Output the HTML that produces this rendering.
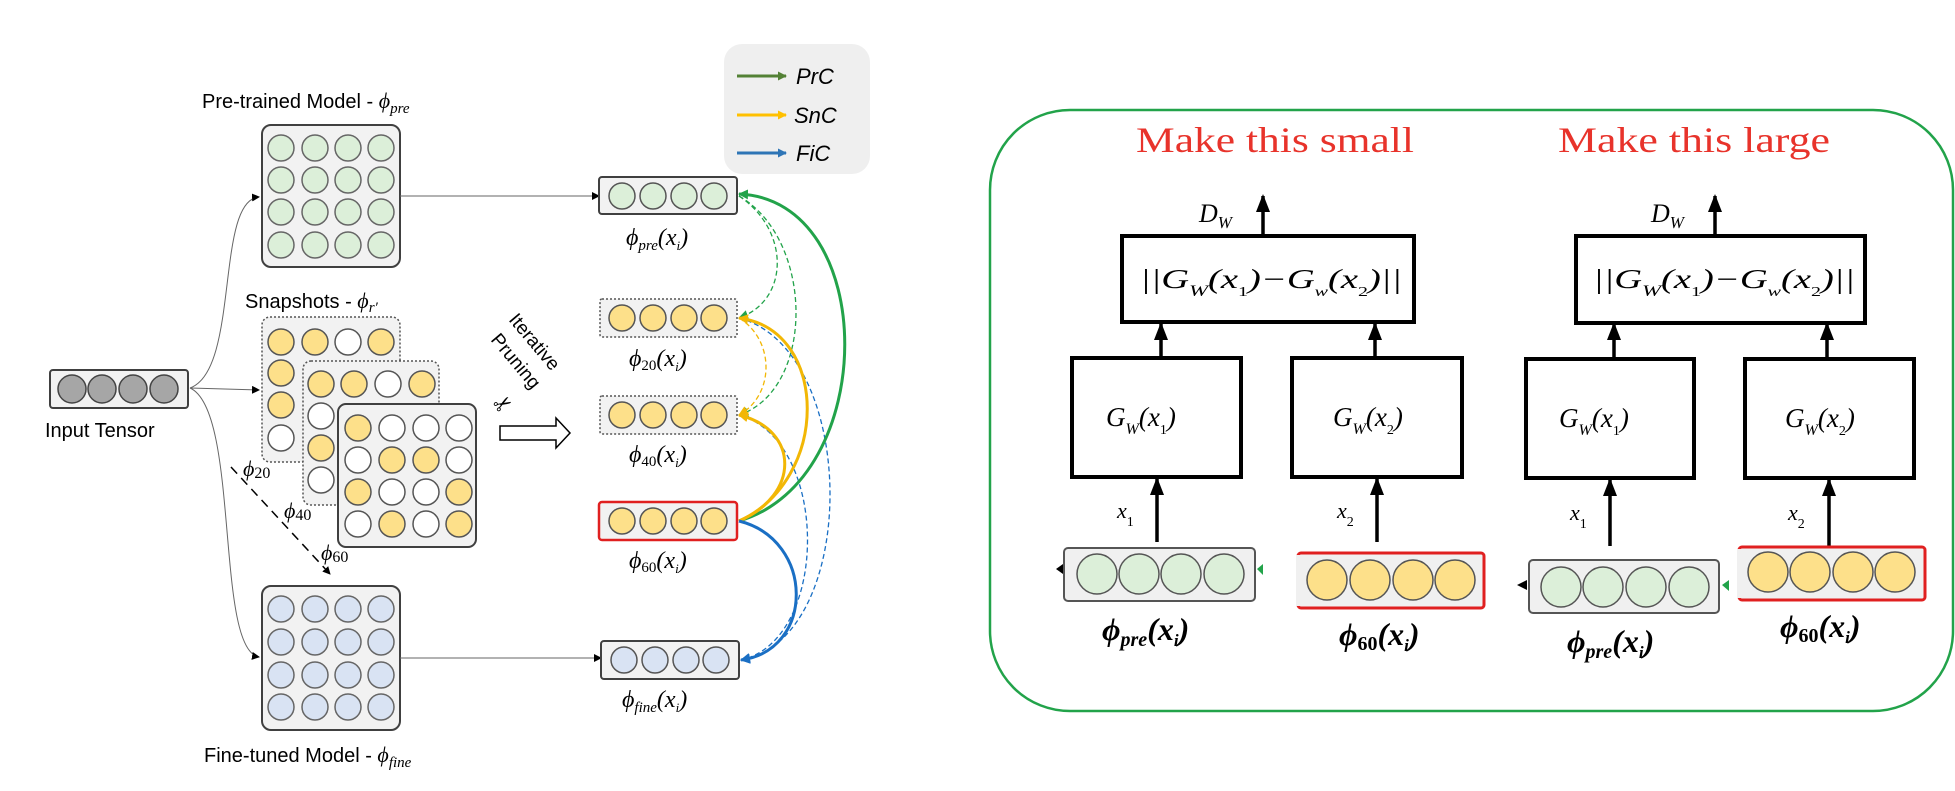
<!DOCTYPE html>
<html><head><meta charset="utf-8"><style>
html,body{margin:0;padding:0;background:#fff;}
svg{display:block;}
text{font-family:"Liberation Sans",sans-serif;}
.ser{font-family:"Liberation Serif",serif;}
</style></head><body>
<svg width="1955" height="791" viewBox="0 0 1955 791" xmlns="http://www.w3.org/2000/svg">
<defs>
<marker id="ak" markerWidth="8" markerHeight="8" refX="7" refY="4" orient="auto" markerUnits="userSpaceOnUse"><path d="M0,0 L8,4 L0,8z" fill="#000"/></marker>
<marker id="ag" markerWidth="10" markerHeight="10" refX="9" refY="5" orient="auto" markerUnits="userSpaceOnUse"><path d="M0,0 L10,5 L0,10z" fill="#22a34a"/></marker>
<marker id="agd" markerWidth="10" markerHeight="10" refX="9" refY="5" orient="auto" markerUnits="userSpaceOnUse"><path d="M0,0 L10,5 L0,10z" fill="#22a34a"/></marker>
<marker id="ay" markerWidth="10" markerHeight="10" refX="9" refY="5" orient="auto" markerUnits="userSpaceOnUse"><path d="M0,0 L10,5 L0,10z" fill="#f2b705"/></marker>
<marker id="ab" markerWidth="10" markerHeight="10" refX="9" refY="5" orient="auto" markerUnits="userSpaceOnUse"><path d="M0,0 L10,5 L0,10z" fill="#1a6fc4"/></marker>
<marker id="aL" markerWidth="9" markerHeight="9" refX="8" refY="4.5" orient="auto" markerUnits="userSpaceOnUse"><path d="M0,0 L9,4.5 L0,9z" fill="#538135"/></marker>
<marker id="aLy" markerWidth="9" markerHeight="9" refX="8" refY="4.5" orient="auto" markerUnits="userSpaceOnUse"><path d="M0,0 L9,4.5 L0,9z" fill="#ffc000"/></marker>
<marker id="aLb" markerWidth="9" markerHeight="9" refX="8" refY="4.5" orient="auto" markerUnits="userSpaceOnUse"><path d="M0,0 L9,4.5 L0,9z" fill="#2e75b6"/></marker>
<marker id="abig" markerWidth="18" markerHeight="14" refX="16" refY="7" orient="auto" markerUnits="userSpaceOnUse"><path d="M0,0 L18,7 L0,14z" fill="#000"/></marker>
</defs>

<!-- Legend -->
<rect x="724" y="44" width="146" height="130" rx="18" fill="#efefef"/>
<line x1="737" y1="76" x2="786" y2="76" stroke="#538135" stroke-width="3" marker-end="url(#aL)"/>
<line x1="737" y1="115" x2="786" y2="115" stroke="#ffc000" stroke-width="3" marker-end="url(#aLy)"/>
<line x1="737" y1="153" x2="786" y2="153" stroke="#2e75b6" stroke-width="3" marker-end="url(#aLb)"/>
<text x="796" y="84" font-size="22" font-style="italic">PrC</text>
<text x="794" y="123" font-size="22" font-style="italic">SnC</text>
<text x="796" y="161" font-size="22" font-style="italic">FiC</text>

<!-- Labels -->
<text x="202" y="108" font-size="20">Pre-trained Model - <tspan class="ser" font-style="italic" font-size="22">ϕ</tspan><tspan class="ser" font-style="italic" font-size="15" dy="5">pre</tspan></text>
<text x="245" y="308" font-size="20">Snapshots - <tspan class="ser" font-style="italic" font-size="22">ϕ</tspan><tspan class="ser" font-style="italic" font-size="15" dy="4">r′</tspan></text>
<text x="204" y="762" font-size="20">Fine-tuned Model - <tspan class="ser" font-style="italic" font-size="22">ϕ</tspan><tspan class="ser" font-style="italic" font-size="15" dy="5">fine</tspan></text>
<text x="45" y="437" font-size="20">Input Tensor</text>

<!-- Pre box -->
<rect x="262" y="125" width="138" height="142" rx="9" fill="#f2f2f2" stroke="#404040" stroke-width="2"/>
<g fill="#dcefd9" stroke="#666" stroke-width="1.5">
<circle cx="281" cy="148" r="13"/><circle cx="315" cy="148" r="13"/><circle cx="348" cy="148" r="13"/><circle cx="381" cy="148" r="13"/>
<circle cx="281" cy="180" r="13"/><circle cx="315" cy="180" r="13"/><circle cx="348" cy="180" r="13"/><circle cx="381" cy="180" r="13"/>
<circle cx="281" cy="212" r="13"/><circle cx="315" cy="212" r="13"/><circle cx="348" cy="212" r="13"/><circle cx="381" cy="212" r="13"/>
<circle cx="281" cy="245" r="13"/><circle cx="315" cy="245" r="13"/><circle cx="348" cy="245" r="13"/><circle cx="381" cy="245" r="13"/>
</g>
<!-- Fine box -->
<rect x="262" y="586" width="138" height="144" rx="9" fill="#f2f2f2" stroke="#404040" stroke-width="2"/>
<g fill="#d9e3f3" stroke="#666" stroke-width="1.5">
<circle cx="281" cy="609" r="13"/><circle cx="315" cy="609" r="13"/><circle cx="348" cy="609" r="13"/><circle cx="381" cy="609" r="13"/>
<circle cx="281" cy="642" r="13"/><circle cx="315" cy="642" r="13"/><circle cx="348" cy="642" r="13"/><circle cx="381" cy="642" r="13"/>
<circle cx="281" cy="675" r="13"/><circle cx="315" cy="675" r="13"/><circle cx="348" cy="675" r="13"/><circle cx="381" cy="675" r="13"/>
<circle cx="281" cy="707" r="13"/><circle cx="315" cy="707" r="13"/><circle cx="348" cy="707" r="13"/><circle cx="381" cy="707" r="13"/>
</g>

<!-- Snapshots -->
<rect x="262" y="317" width="138" height="145" rx="8" fill="#f2f2f2" stroke="#555" stroke-width="1.5" stroke-dasharray="2,2"/>
<g stroke="#555" stroke-width="1.5">
<circle cx="281" cy="342" r="13" fill="#fde08a"/><circle cx="315" cy="342" r="13" fill="#fde08a"/><circle cx="348" cy="342" r="13" fill="#fff"/><circle cx="381" cy="342" r="13" fill="#fde08a"/>
<circle cx="281" cy="373" r="13" fill="#fde08a"/><circle cx="281" cy="405" r="13" fill="#fde08a"/><circle cx="281" cy="438" r="13" fill="#fff"/>
</g>
<rect x="303" y="361" width="136" height="144" rx="8" fill="#f2f2f2" stroke="#555" stroke-width="1.5" stroke-dasharray="2,2"/>
<g stroke="#555" stroke-width="1.5">
<circle cx="321" cy="384" r="13" fill="#fde08a"/><circle cx="354" cy="384" r="13" fill="#fde08a"/><circle cx="388" cy="384" r="13" fill="#fff"/><circle cx="422" cy="384" r="13" fill="#fde08a"/>
<circle cx="321" cy="416" r="13" fill="#fff"/><circle cx="321" cy="448" r="13" fill="#fde08a"/><circle cx="321" cy="480" r="13" fill="#fff"/>
</g>
<rect x="338" y="404" width="138" height="143" rx="8" fill="#f2f2f2" stroke="#404040" stroke-width="2"/>
<g stroke="#555" stroke-width="1.5">
<circle cx="358" cy="428" r="13" fill="#fde08a"/><circle cx="392" cy="428" r="13" fill="#fff"/><circle cx="426" cy="428" r="13" fill="#fff"/><circle cx="459" cy="428" r="13" fill="#fff"/>
<circle cx="358" cy="460" r="13" fill="#fff"/><circle cx="392" cy="460" r="13" fill="#fde08a"/><circle cx="426" cy="460" r="13" fill="#fde08a"/><circle cx="459" cy="460" r="13" fill="#fff"/>
<circle cx="358" cy="492" r="13" fill="#fde08a"/><circle cx="392" cy="492" r="13" fill="#fff"/><circle cx="426" cy="492" r="13" fill="#fff"/><circle cx="459" cy="492" r="13" fill="#fde08a"/>
<circle cx="358" cy="524" r="13" fill="#fff"/><circle cx="392" cy="524" r="13" fill="#fde08a"/><circle cx="426" cy="524" r="13" fill="#fff"/><circle cx="459" cy="524" r="13" fill="#fde08a"/>
</g>
<text class="ser" x="243" y="476" font-size="22" font-style="italic">ϕ<tspan font-size="16" font-style="normal" dy="2">20</tspan></text>
<text class="ser" x="284" y="518" font-size="22" font-style="italic">ϕ<tspan font-size="16" font-style="normal" dy="2">40</tspan></text>
<text class="ser" x="321" y="560" font-size="22" font-style="italic">ϕ<tspan font-size="16" font-style="normal" dy="2">60</tspan></text>
<line x1="231" y1="467" x2="330" y2="574" stroke="#000" stroke-width="1.5" stroke-dasharray="9,6" marker-end="url(#ak)"/>

<!-- Input tensor -->
<rect x="50" y="370" width="138" height="38" rx="3" fill="#f2f2f2" stroke="#404040" stroke-width="2"/>
<g fill="#a6a6a6" stroke="#444" stroke-width="1.5">
<circle cx="72" cy="389" r="14"/><circle cx="102" cy="389" r="14"/><circle cx="133" cy="389" r="14"/><circle cx="164" cy="389" r="14"/>
</g>
<g fill="none" stroke="#666" stroke-width="1">
<path d="M190,388 C240,370 215,200 259,197" marker-end="url(#ak)"/>
<path d="M190,388 L259,390" marker-end="url(#ak)"/>
<path d="M190,388 C240,410 215,650 259,657" marker-end="url(#ak)"/>
<path d="M400,196 L599,196" marker-end="url(#ak)"/>
<path d="M400,658 L601,658" marker-end="url(#ak)"/>
</g>

<!-- Iterative Pruning -->
<text x="0" y="0" font-size="19" transform="translate(508,320) rotate(50)">Iterative</text>
<text x="0" y="0" font-size="19" transform="translate(490,340) rotate(50)">Pruning</text>
<text x="492" y="410" font-size="22" transform="rotate(-30 505 400)">✂</text>
<path d="M500,426 L556,426 L556,418 L570,433 L556,448 L556,440 L500,440z" fill="#fff" stroke="#000" stroke-width="1.5"/>

<!-- Output vectors -->
<rect x="599" y="177" width="138" height="37" rx="3" fill="#f2f2f2" stroke="#404040" stroke-width="2"/>
<g fill="#dcefd9" stroke="#555" stroke-width="1.5"><circle cx="622" cy="196" r="13"/><circle cx="653" cy="196" r="13"/><circle cx="684" cy="196" r="13"/><circle cx="714" cy="196" r="13"/></g>
<rect x="600" y="299" width="137" height="38" rx="2" fill="#f2f2f2" stroke="#555" stroke-width="1.5" stroke-dasharray="2,2"/>
<g fill="#fde08a" stroke="#555" stroke-width="1.5"><circle cx="622" cy="318" r="13"/><circle cx="653" cy="318" r="13"/><circle cx="684" cy="318" r="13"/><circle cx="714" cy="318" r="13"/></g>
<rect x="600" y="396" width="137" height="38" rx="2" fill="#f2f2f2" stroke="#555" stroke-width="1.5" stroke-dasharray="2,2"/>
<g fill="#fde08a" stroke="#555" stroke-width="1.5"><circle cx="622" cy="415" r="13"/><circle cx="653" cy="415" r="13"/><circle cx="684" cy="415" r="13"/><circle cx="714" cy="415" r="13"/></g>
<rect x="599" y="502" width="138" height="38" rx="3" fill="#f2f2f2" stroke="#e02020" stroke-width="2.5"/>
<g fill="#fde08a" stroke="#555" stroke-width="1.5"><circle cx="622" cy="521" r="13"/><circle cx="653" cy="521" r="13"/><circle cx="684" cy="521" r="13"/><circle cx="714" cy="521" r="13"/></g>
<rect x="601" y="641" width="138" height="38" rx="3" fill="#f2f2f2" stroke="#404040" stroke-width="2"/>
<g fill="#d9e3f3" stroke="#555" stroke-width="1.5"><circle cx="624" cy="660" r="13"/><circle cx="655" cy="660" r="13"/><circle cx="686" cy="660" r="13"/><circle cx="716" cy="660" r="13"/></g>
<g class="ser" font-size="24" font-style="italic">
<text x="626" y="245" class="ser">ϕ<tspan font-size="15" dy="5">pre</tspan><tspan dy="-5">(x</tspan><tspan font-size="13" dy="5">i</tspan><tspan dy="-5">)</tspan></text>
<text x="629" y="366" class="ser">ϕ<tspan font-size="15" font-style="normal" dy="4">20</tspan><tspan dy="-4">(x</tspan><tspan font-size="13" dy="5">i</tspan><tspan dy="-5">)</tspan></text>
<text x="629" y="462" class="ser">ϕ<tspan font-size="15" font-style="normal" dy="4">40</tspan><tspan dy="-4">(x</tspan><tspan font-size="13" dy="5">i</tspan><tspan dy="-5">)</tspan></text>
<text x="629" y="568" class="ser">ϕ<tspan font-size="15" font-style="normal" dy="4">60</tspan><tspan dy="-4">(x</tspan><tspan font-size="13" dy="5">i</tspan><tspan dy="-5">)</tspan></text>
<text x="622" y="707" class="ser">ϕ<tspan font-size="15" dy="5">fine</tspan><tspan dy="-5">(x</tspan><tspan font-size="13" dy="5">i</tspan><tspan dy="-5">)</tspan></text>
</g>

<!-- Right-side connectors -->
<g fill="none" stroke-width="1.3" stroke-dasharray="5,3">
<path d="M739,196 C790,230 790,300 739,318" stroke="#22a34a" marker-end="url(#agd)"/>
<path d="M739,196 C815,240 815,390 739,415" stroke="#22a34a" marker-end="url(#agd)"/>
<path d="M739,318 C775,340 775,395 739,415" stroke="#f2b705" marker-end="url(#ay)"/>
<path d="M739,318 C860,350 860,640 741,660" stroke="#1a6fc4" marker-end="url(#ab)"/>
<path d="M739,415 C830,440 830,640 741,660" stroke="#1a6fc4" marker-end="url(#ab)"/>
</g>
<g fill="none" stroke-width="3">
<path d="M739,521 C880,480 880,200 739,194" stroke="#22a34a" marker-end="url(#ag)"/>
<path d="M739,521 C830,480 830,330 739,318" stroke="#f2b705" marker-end="url(#ay)"/>
<path d="M739,521 C800,495 800,430 739,415" stroke="#f2b705" marker-end="url(#ay)"/>
<path d="M739,521 C815,540 815,650 741,660" stroke="#1a6fc4" marker-end="url(#ab)"/>
</g>

<!-- RIGHT PANEL -->
<rect x="990" y="110" width="963" height="601" rx="80" fill="#fff" stroke="#22a34a" stroke-width="2.5"/>
<text class="ser" x="1136" y="152" font-size="36" fill="#e8332b" textLength="278" lengthAdjust="spacingAndGlyphs">Make this small</text>
<text class="ser" x="1558" y="152" font-size="36" fill="#e8332b" textLength="272" lengthAdjust="spacingAndGlyphs">Make this large</text>

<g stroke="#000" stroke-width="4" fill="#fff">
<rect x="1122" y="236" width="292" height="86"/>
<rect x="1576" y="236" width="289" height="87"/>
<rect x="1072" y="358" width="169" height="119"/>
<rect x="1292" y="358" width="170" height="119"/>
<rect x="1526" y="359" width="168" height="119"/>
<rect x="1745" y="359" width="169" height="119"/>
</g>
<g stroke="#000" stroke-width="3.5" fill="none">
<line x1="1263" y1="236" x2="1263" y2="196" marker-end="url(#abig)"/>
<line x1="1715" y1="236" x2="1715" y2="196" marker-end="url(#abig)"/>
<line x1="1161" y1="358" x2="1161" y2="324" marker-end="url(#abig)"/>
<line x1="1375" y1="358" x2="1375" y2="324" marker-end="url(#abig)"/>
<line x1="1614" y1="359" x2="1614" y2="324" marker-end="url(#abig)"/>
<line x1="1827" y1="359" x2="1827" y2="324" marker-end="url(#abig)"/>
<line x1="1157" y1="542" x2="1157" y2="479" marker-end="url(#abig)"/>
<line x1="1377" y1="542" x2="1377" y2="479" marker-end="url(#abig)"/>
<line x1="1610" y1="546" x2="1610" y2="480" marker-end="url(#abig)"/>
<line x1="1829" y1="546" x2="1829" y2="480" marker-end="url(#abig)"/>
</g>
<g class="ser" font-style="italic" fill="#000">
<text x="1199" y="222" font-size="26" class="ser">D<tspan font-size="17" dy="6">W</tspan></text>
<text x="1651" y="222" font-size="26" class="ser">D<tspan font-size="17" dy="6">W</tspan></text>
<text x="1140" y="288" font-size="27" class="ser" textLength="262" lengthAdjust="spacingAndGlyphs">||G<tspan font-size="16" dy="8">W</tspan><tspan dy="-8">(x</tspan><tspan font-size="14" font-style="normal" dy="8">1</tspan><tspan dy="-8">)−G</tspan><tspan font-size="14" dy="8">w</tspan><tspan dy="-8">(x</tspan><tspan font-size="14" font-style="normal" dy="8">2</tspan><tspan dy="-8">)||</tspan></text>
<text x="1593" y="288" font-size="27" class="ser" textLength="262" lengthAdjust="spacingAndGlyphs">||G<tspan font-size="16" dy="8">W</tspan><tspan dy="-8">(x</tspan><tspan font-size="14" font-style="normal" dy="8">1</tspan><tspan dy="-8">)−G</tspan><tspan font-size="14" dy="8">w</tspan><tspan dy="-8">(x</tspan><tspan font-size="14" font-style="normal" dy="8">2</tspan><tspan dy="-8">)||</tspan></text>
<text x="1106" y="426" font-size="27" class="ser">G<tspan font-size="16" dy="8">W</tspan><tspan dy="-8">(x</tspan><tspan font-size="14" font-style="normal" dy="8">1</tspan><tspan dy="-8">)</tspan></text>
<text x="1333" y="426" font-size="27" class="ser">G<tspan font-size="16" dy="8">W</tspan><tspan dy="-8">(x</tspan><tspan font-size="14" font-style="normal" dy="8">2</tspan><tspan dy="-8">)</tspan></text>
<text x="1559" y="427" font-size="27" class="ser">G<tspan font-size="16" dy="8">W</tspan><tspan dy="-8">(x</tspan><tspan font-size="14" font-style="normal" dy="8">1</tspan><tspan dy="-8">)</tspan></text>
<text x="1785" y="427" font-size="27" class="ser">G<tspan font-size="16" dy="8">W</tspan><tspan dy="-8">(x</tspan><tspan font-size="14" font-style="normal" dy="8">2</tspan><tspan dy="-8">)</tspan></text>
<text x="1117" y="518" font-size="22" class="ser">x<tspan font-size="14" font-style="normal" dy="8">1</tspan></text>
<text x="1337" y="518" font-size="22" class="ser">x<tspan font-size="14" font-style="normal" dy="8">2</tspan></text>
<text x="1570" y="520" font-size="22" class="ser">x<tspan font-size="14" font-style="normal" dy="8">1</tspan></text>
<text x="1788" y="520" font-size="22" class="ser">x<tspan font-size="14" font-style="normal" dy="8">2</tspan></text>
</g>

<!-- bottom vectors -->
<path d="M1056,569 L1063,564 L1063,574z" fill="#000"/>
<rect x="1064" y="548" width="191" height="53" rx="4" fill="#f0f0f0" stroke="#555" stroke-width="2"/>
<g fill="#dcefd9" stroke="#555" stroke-width="1.5"><circle cx="1097" cy="574" r="20"/><circle cx="1139" cy="574" r="20"/><circle cx="1181" cy="574" r="20"/><circle cx="1224" cy="574" r="20"/></g>
<path d="M1257,569 L1263,564 L1263,575z" fill="#22a34a"/>
<rect x="1298" y="553" width="186" height="55" rx="3" fill="#f0f0f0" stroke="#e02020" stroke-width="3"/>
<rect x="1296" y="555" width="4" height="51" fill="#f0f0f0"/>
<g fill="#fde08a" stroke="#555" stroke-width="1.5"><circle cx="1327" cy="580" r="20"/><circle cx="1370" cy="580" r="20"/><circle cx="1413" cy="580" r="20"/><circle cx="1455" cy="580" r="20"/></g>
<path d="M1517,585 L1527,580 L1527,590z" fill="#000"/>
<rect x="1529" y="560" width="190" height="53" rx="4" fill="#f0f0f0" stroke="#555" stroke-width="2"/>
<g fill="#dcefd9" stroke="#555" stroke-width="1.5"><circle cx="1561" cy="587" r="20"/><circle cx="1603" cy="587" r="20"/><circle cx="1646" cy="587" r="20"/><circle cx="1689" cy="587" r="20"/></g>
<path d="M1722,585 L1729,580 L1729,591z" fill="#22a34a"/>
<rect x="1739" y="547" width="186" height="53" rx="3" fill="#f0f0f0" stroke="#e02020" stroke-width="3"/>
<rect x="1737" y="549" width="4" height="49" fill="#f0f0f0"/>
<g fill="#fde08a" stroke="#555" stroke-width="1.5"><circle cx="1768" cy="572" r="20"/><circle cx="1810" cy="572" r="20"/><circle cx="1853" cy="572" r="20"/><circle cx="1895" cy="572" r="20"/></g>

<g font-size="32" font-style="italic" font-weight="bold">
<text x="1102" y="640" class="ser">ϕ<tspan font-size="20" dy="6">pre</tspan><tspan dy="-6">(x</tspan><tspan font-size="17" dy="6">i</tspan><tspan dy="-6">)</tspan></text>
<text x="1339" y="645" class="ser">ϕ<tspan font-size="20" font-style="normal" dy="5">60</tspan><tspan dy="-5">(x</tspan><tspan font-size="17" dy="6">i</tspan><tspan dy="-6">)</tspan></text>
<text x="1567" y="652" class="ser">ϕ<tspan font-size="20" dy="6">pre</tspan><tspan dy="-6">(x</tspan><tspan font-size="17" dy="6">i</tspan><tspan dy="-6">)</tspan></text>
<text x="1780" y="637" class="ser">ϕ<tspan font-size="20" font-style="normal" dy="5">60</tspan><tspan dy="-5">(x</tspan><tspan font-size="17" dy="6">i</tspan><tspan dy="-6">)</tspan></text>
</g>
</svg>
</body></html>
